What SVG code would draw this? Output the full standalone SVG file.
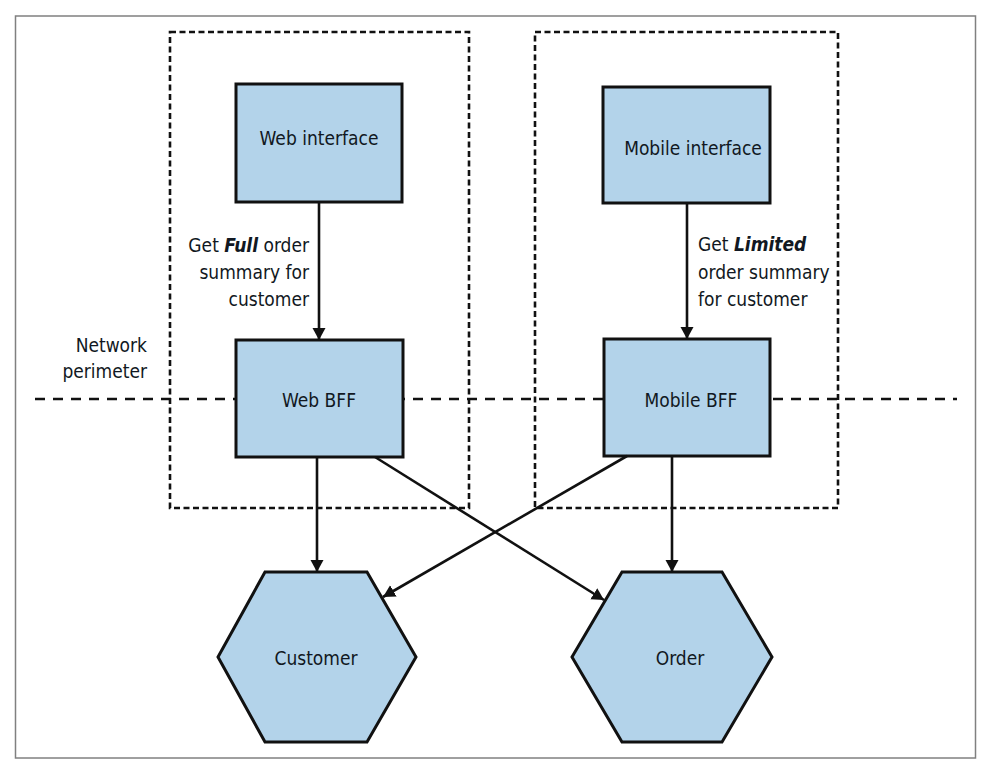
<svg xmlns="http://www.w3.org/2000/svg" width="985" height="770" viewBox="0 0 985 770">
<style>
.t{font-family:"DejaVu Sans Condensed","DejaVu Sans","Liberation Sans",sans-serif;font-stretch:condensed;font-size:19px;fill:#111822}
.node{fill:#b3d3ea;stroke:#111;stroke-width:3}
.zone{fill:none;stroke:#111;stroke-width:2.6;stroke-dasharray:6 3.5}
.edge{stroke:#111;stroke-width:2.6;fill:none;marker-end:url(#arr)}
.bi{font-weight:bold;font-style:italic}
</style>
<defs>
<marker id="arr" markerUnits="userSpaceOnUse" markerWidth="14" markerHeight="14" refX="12" refY="6.5" orient="auto">
<path d="M0,0 L12,6.5 L0,13 z" fill="#111"/>
</marker>
</defs>
<rect x="0" y="0" width="985" height="770" fill="#fff"/>
<rect x="15.5" y="16" width="960" height="742" fill="none" stroke="#808080" stroke-width="1.5"/>
<g id="perimeter">
<line x1="35" y1="399" x2="957" y2="399" stroke="#111" stroke-width="2.6" stroke-dasharray="10 8"/>
<text class="t" x="147" y="352" text-anchor="end">Network</text>
<text class="t" x="147" y="378" text-anchor="end">perimeter</text>
</g>
<g id="zones">
<rect class="zone" x="170" y="32" width="299" height="476"/>
<rect class="zone" x="535" y="32" width="303" height="476"/>
</g>
<g id="web-interface">
<rect class="node" x="236" y="84" width="166" height="118"/>
<text class="t" x="319" y="145" text-anchor="middle">Web interface</text>
</g>
<g id="mobile-interface">
<rect class="node" x="603" y="87" width="167" height="116"/>
<text class="t" x="693" y="155" text-anchor="middle">Mobile interface</text>
</g>
<g id="web-bff">
<rect class="node" x="236" y="340" width="167" height="117"/>
<text class="t" x="319" y="407" text-anchor="middle">Web BFF</text>
</g>
<g id="mobile-bff">
<rect class="node" x="604" y="339" width="166" height="117"/>
<text class="t" x="691" y="407" text-anchor="middle">Mobile BFF</text>
</g>
<g id="customer">
<polygon class="node" points="265,572 367,572 416,657 367,742 265,742 218,657"/>
<text class="t" x="316" y="665" text-anchor="middle">Customer</text>
</g>
<g id="order">
<polygon class="node" points="622,572 722,572 772,657 722,742 622,742 572,657"/>
<text class="t" x="680" y="665" text-anchor="middle">Order</text>
</g>
<g id="connectors">
<line class="edge" x1="319" y1="202" x2="319" y2="340"/>
<line class="edge" x1="687" y1="203" x2="687" y2="339"/>
<line class="edge" x1="317" y1="457" x2="317" y2="572"/>
<line class="edge" x1="672" y1="456" x2="672" y2="572"/>
<line class="edge" x1="375" y1="457" x2="604" y2="600"/>
<line class="edge" x1="627" y1="456" x2="383" y2="597"/>
<text class="t" x="309" y="252" text-anchor="end">Get <tspan class="bi">Full</tspan> order</text>
<text class="t" x="309" y="279" text-anchor="end">summary for</text>
<text class="t" x="309" y="306" text-anchor="end">customer</text>
<text class="t" x="698" y="251" text-anchor="start">Get <tspan class="bi">Limited</tspan></text>
<text class="t" x="698" y="279" text-anchor="start">order summary</text>
<text class="t" x="698" y="306" text-anchor="start">for customer</text>
</g>
</svg>
